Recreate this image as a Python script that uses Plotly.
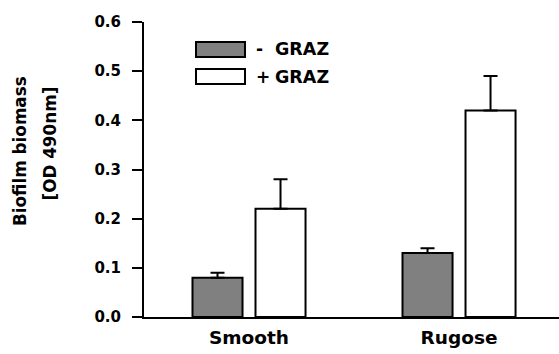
import plotly.graph_objects as go

categories = ["Smooth", "Rugose"]
minus_graz = [0.08, 0.13]
minus_graz_err = [0.01, 0.01]
plus_graz = [0.22, 0.42]
plus_graz_err = [0.06, 0.07]
series_signs = ["-", "+"]
series_label = "GRAZ"
y_ticks = [0.0, 0.1, 0.2, 0.3, 0.4, 0.5, 0.6]
y_tick_labels = ["0.0", "0.1", "0.2", "0.3", "0.4", "0.5", "0.6"]
y_title_lines = ["Biofilm biomass", "[OD 490nm]"]

FONT = "DejaVu Sans"
GRAY = "#808080"

fig = go.Figure()
fig.add_trace(go.Bar(
    x=categories, y=minus_graz, name="- GRAZ",
    marker=dict(color=GRAY, line=dict(color="black", width=2)),
    error_y=dict(type="data", array=minus_graz_err, arrayminus=[0, 0], symmetric=False,
                 color="black", thickness=2, width=7),
))
fig.add_trace(go.Bar(
    x=categories, y=plus_graz, name="+ GRAZ",
    marker=dict(color="white", line=dict(color="black", width=2)),
    error_y=dict(type="data", array=plus_graz_err, arrayminus=[0, 0], symmetric=False,
                 color="black", thickness=2, width=7),
))

# custom legend (wide rectangles)
legend_fills = [GRAY, "white"]
legend_rows = [(0.8814, 0.9322), (0.7898, 0.8407)]
for sign, fill, (y0, y1) in zip(series_signs, legend_fills, legend_rows):
    fig.add_shape(type="rect", xref="paper", yref="paper",
                  x0=0.1253, x1=0.2434, y0=y0, y1=y1,
                  fillcolor=fill, line=dict(color="black", width=2))
    fig.add_annotation(text=f"<b>{sign}</b>", xref="paper", yref="paper",
                       x=0.266, y=(y0 + y1) / 2, xanchor="left", yanchor="middle",
                       showarrow=False, font=dict(family=FONT, size=17, color="black"))
    fig.add_annotation(text=f"<b>{series_label}</b>", xref="paper", yref="paper",
                       x=0.312, y=(y0 + y1) / 2, xanchor="left", yanchor="middle",
                       showarrow=False, font=dict(family=FONT, size=17.5, color="black"))

# y-axis title as two rotated lines
for line, xp, yp in zip(y_title_lines, [-0.2988, -0.2265], [0.5627, 0.588]):
    fig.add_annotation(text=f"<b>{line}</b>", xref="paper", yref="paper",
                       x=xp, y=yp, xanchor="center", yanchor="middle", textangle=-90,
                       showarrow=False, font=dict(family=FONT, size=16.8, color="black"))

fig.update_layout(
    width=559, height=354,
    margin=dict(l=144, r=0, t=22, b=37),
    paper_bgcolor="white", plot_bgcolor="white",
    barmode="group", bargap=0.4, bargroupgap=0.206,
    showlegend=False,
    font=dict(family=FONT, color="black"),
    xaxis=dict(
        range=[-0.5, 1.476], showgrid=False, zeroline=False,
        showline=True, linecolor="black", linewidth=2,
        ticks="", tickfont=dict(family=FONT, size=18.5, color="black"),
        tickvals=categories, ticktext=[f"<b>{c}</b>" for c in categories],
        ticklabelstandoff=3,
    ),
    yaxis=dict(
        range=[0, 0.6], showgrid=False, zeroline=False,
        showline=True, linecolor="black", linewidth=2,
        ticks="outside", ticklen=10, tickwidth=2, tickcolor="black",
        tickvals=y_ticks, ticktext=[f"<b>{t}</b>" for t in y_tick_labels],
        tickfont=dict(family=FONT, size=15, color="black"),
        ticklabelstandoff=8,
    ),
)

fig.write_html(
    "out.html",
    config={"displayModeBar": False},
    post_script="document.body.style.margin='0';document.body.style.overflow='hidden';",
)
